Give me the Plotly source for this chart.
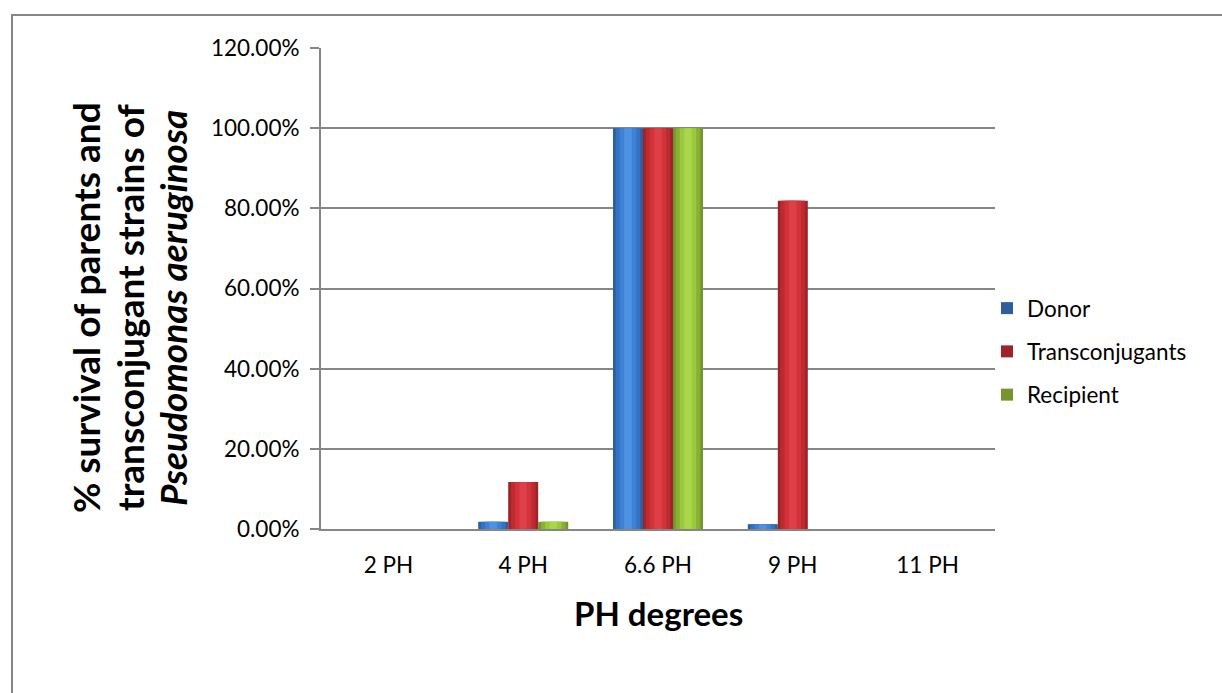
import plotly.graph_objects as go

categories = ["2 PH", "4 PH", "6.6 PH", "9 PH", "11 PH"]
donor = [0.0, 0.018, 1.0, 0.012, 0.0]
transconjugants = [0.0, 0.117, 1.0, 0.819, 0.0]
recipient = [0.0, 0.018, 1.0, 0.0, 0.0]

series = [
    ("Donor", donor, ["#2D5E9F", "#3572C2", "#3E82D8", "#4F92E2"]),
    ("Transconjugants", transconjugants, ["#9E2328", "#BD2A31", "#D4323A", "#DD4048"]),
    ("Recipient", recipient, ["#74962C", "#88B034", "#9CC83C", "#ABD54A"]),
]

W, H = 1222, 693
L, R, T, B = 321, 227, 48, 164
pw, ph = W - L - R, H - T - B

def px_x(p):
    return (p - L) / pw

def px_y(p):
    return (H - B - p) / ph

bar_w = 0.2226
fig = go.Figure()
for i, (name, vals, cols) in enumerate(series):
    center = (i - 1) * bar_w
    fracs = [1.0, 0.82, 0.55, 0.25]
    for j, (f, c) in enumerate(zip(fracs, cols)):
        w = bar_w * f
        fig.add_trace(go.Bar(
            x=categories, y=vals, name=name,
            width=w, offset=center - w / 2,
            marker=dict(color=c, line=dict(width=0)),
            showlegend=(j == 0), legendgroup=name,
            hoverinfo="skip" if j else None,
        ))

fig.update_layout(
    width=W, height=H, barmode="overlay",
    margin=dict(l=L, r=R, t=T, b=B),
    paper_bgcolor="white", plot_bgcolor="white",
    font=dict(family="Lato", color="black", size=22),
    legend=dict(x=px_x(987), y=px_y(287), xanchor="left", yanchor="top",
                font=dict(size=22.5), tracegroupgap=11, itemwidth=30,
                bgcolor="rgba(0,0,0,0)"),
    xaxis=dict(showline=True, linecolor="#868686", linewidth=2,
               ticks="outside", ticklen=15, tickcolor="rgba(0,0,0,0)",
               tickfont=dict(size=22.5)),
    yaxis=dict(range=[0, 1.2], dtick=0.2, tickformat=".2%",
               showgrid=True, gridcolor="#868686", gridwidth=1.5,
               showline=True, linecolor="#868686", linewidth=2,
               ticks="outside", ticklen=9, tickcolor="#868686", tickwidth=2,
               ticklabelstandoff=6, tickfont=dict(size=22.5), zeroline=False),
    shapes=[dict(type="rect", xref="paper", yref="paper",
                 x0=px_x(12), y0=px_y(705), x1=px_x(1230), y1=px_y(15),
                 line=dict(color="#868686", width=2), layer="below")],
    annotations=[
        dict(text="<b>PH degrees</b>", xref="paper", yref="paper",
             x=px_x(658), y=px_y(613), xanchor="center", yanchor="middle",
             showarrow=False, font=dict(size=33)),
        dict(text="<b>% survival of parents and</b>", xref="paper", yref="paper",
             x=px_x(85), y=px_y(308), xanchor="center", yanchor="middle",
             textangle=-90, showarrow=False, font=dict(size=37)),
        dict(text="<b>transconjugant strains of</b>", xref="paper", yref="paper",
             x=px_x(129), y=px_y(308), xanchor="center", yanchor="middle",
             textangle=-90, showarrow=False, font=dict(size=37)),
        dict(text="<b><i>Pseudomonas aeruginosa</i></b>", xref="paper", yref="paper",
             x=px_x(172), y=px_y(308), xanchor="center", yanchor="middle",
             textangle=-90, showarrow=False, font=dict(size=37)),
    ],
)

fig.write_html("out.html")
